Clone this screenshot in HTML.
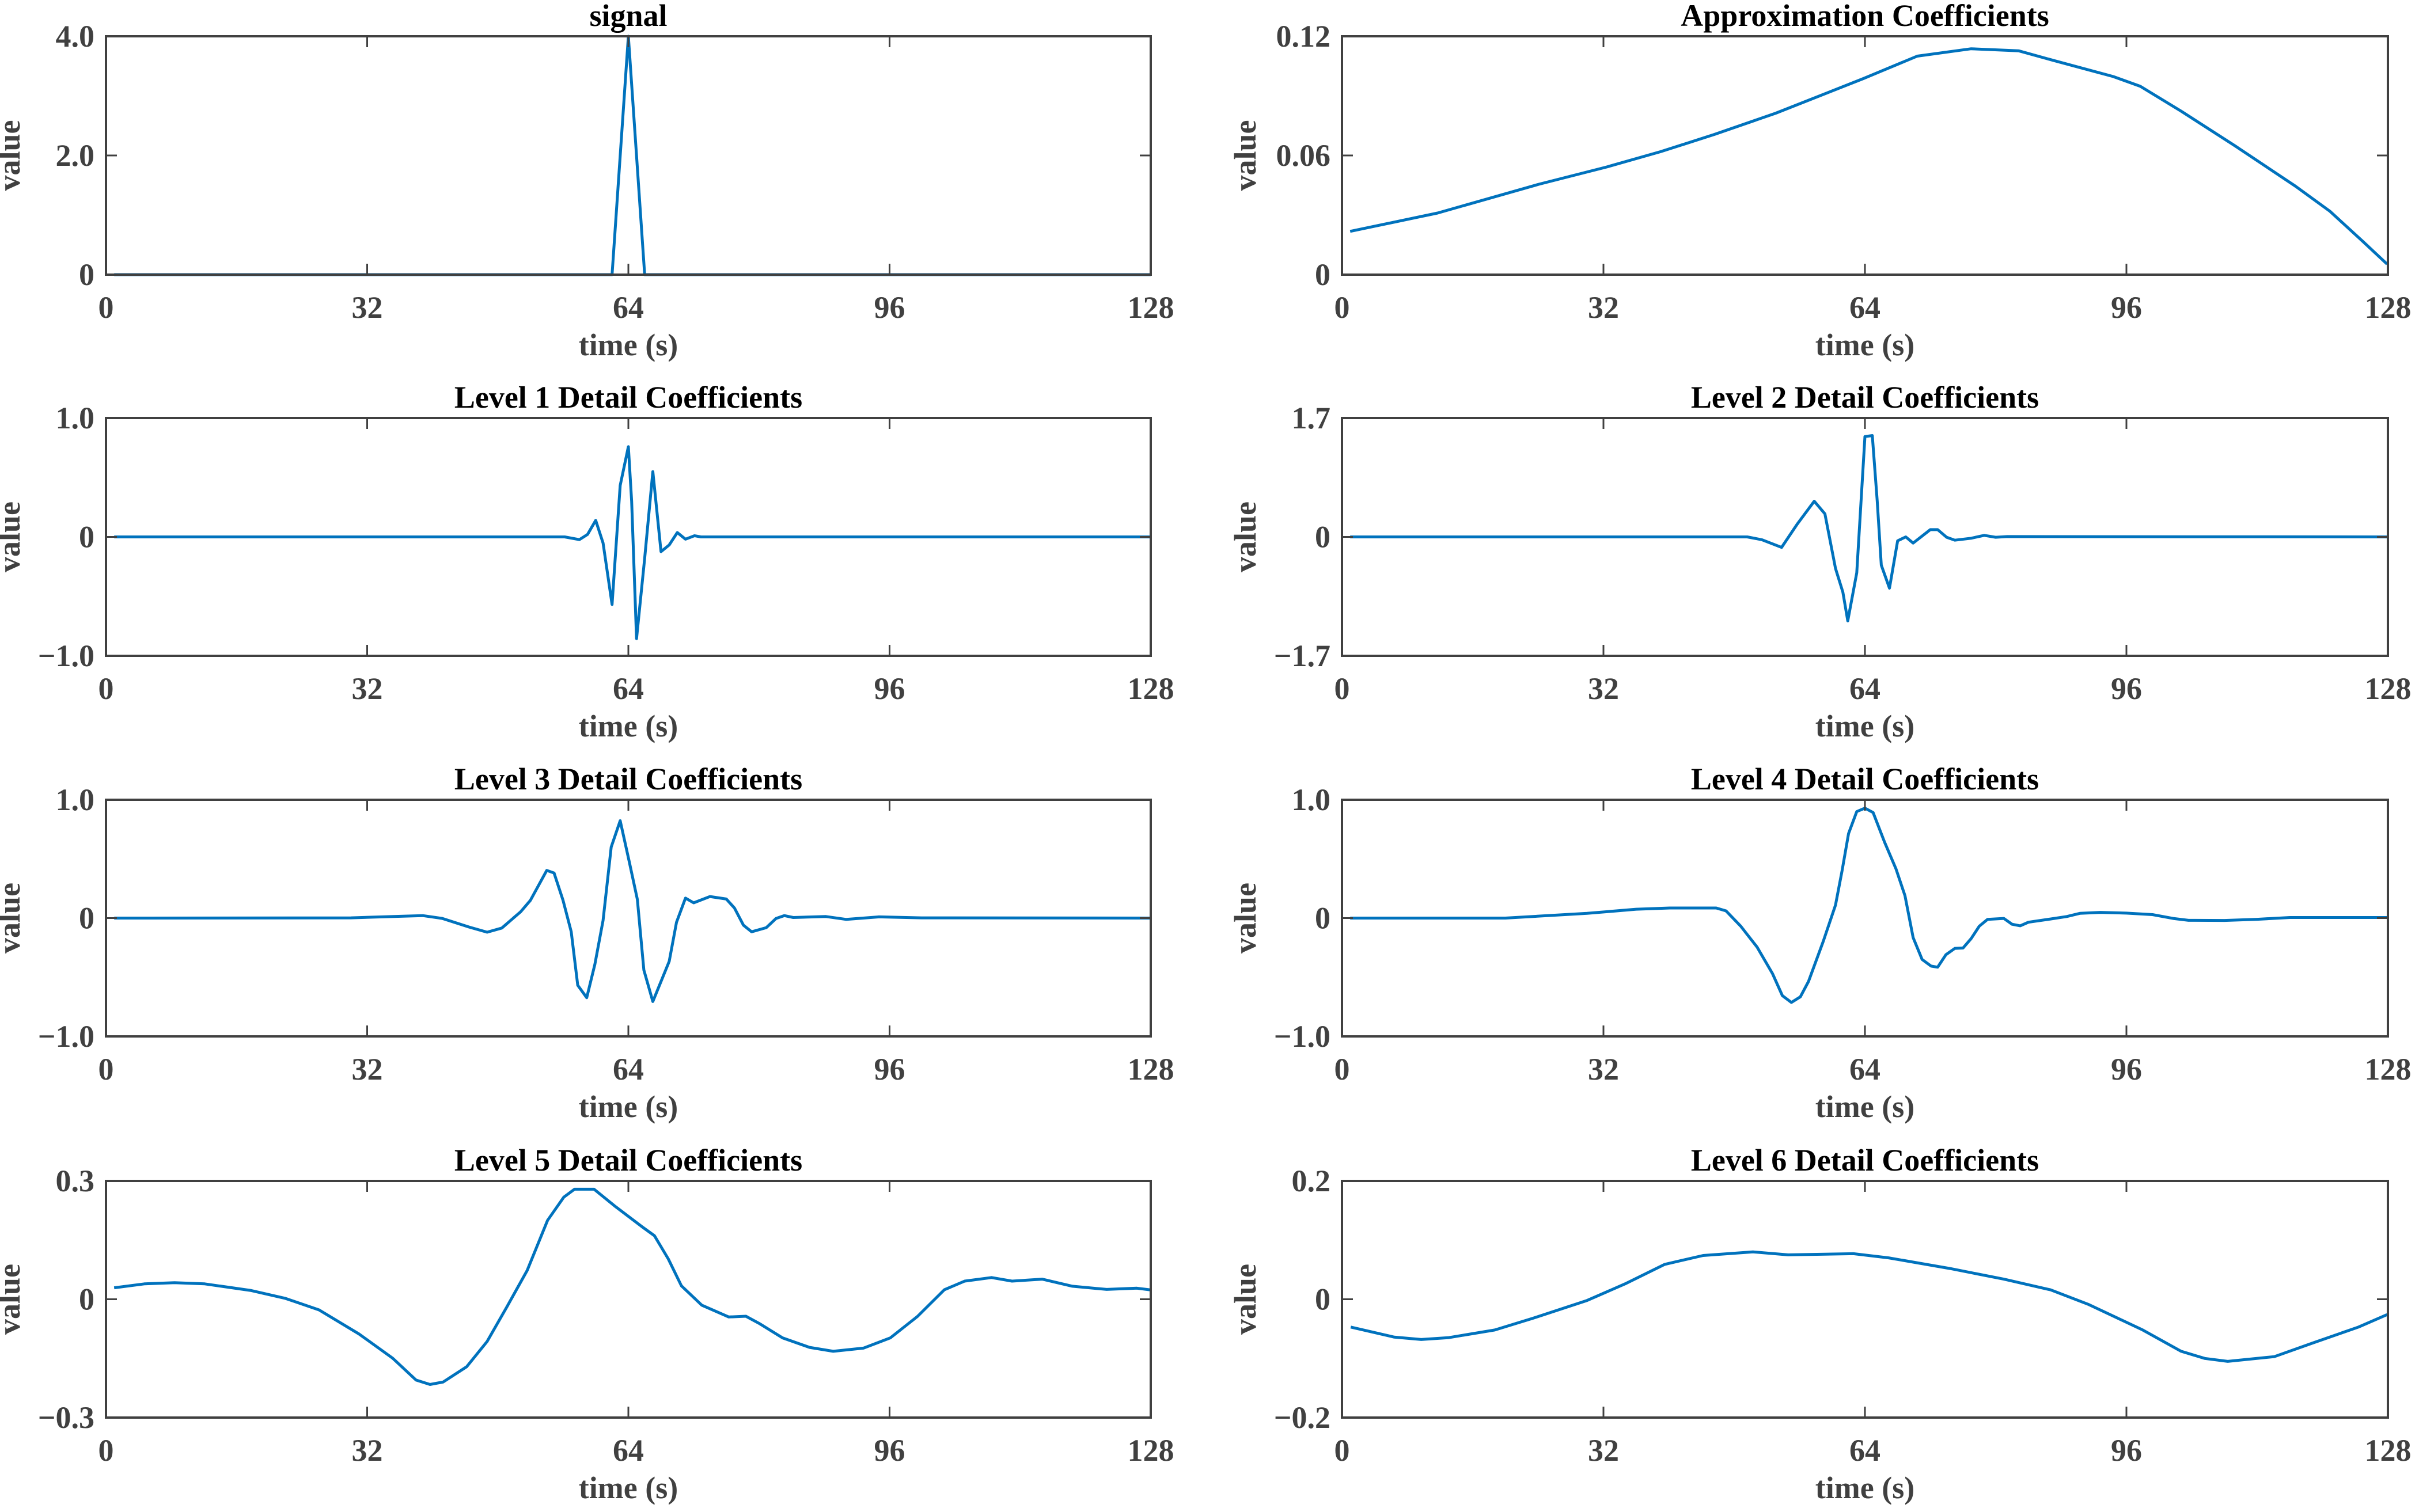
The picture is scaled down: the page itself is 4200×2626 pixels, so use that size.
<!DOCTYPE html>
<html><head><meta charset="utf-8">
<style>
html,body{margin:0;padding:0;background:#fff;}
svg{display:block;}
text{font-family:"Liberation Serif",serif;font-weight:bold;}
</style></head>
<body>
<svg id="fig" width="4200" height="2626" viewBox="0 0 4200 2626" xmlns="http://www.w3.org/2000/svg"></svg>
<script>
// ---- data ----
const xTickLabels = ["0","32","64","96","128"];
const xTickValues = [0,32,64,96,128];

const signalT = [1,62,64,66,128];
const signalV = [0,0,4,0,0];

const approxT = [1,11.7,24.1,32.4,39,45.6,53.1,63.8,70.4,77,82.8,87,94.4,97.7,102.7,109.3,116.7,120.9,125,127.9];
const approxV = [0.0218,0.031,0.0455,0.0542,0.0619,0.0706,0.0813,0.0987,0.110,0.1137,0.1127,0.1079,0.0997,0.0948,0.0823,0.0648,0.0445,0.0319,0.0165,0.0053];

const d1T = [1,56.2,58,59,60,60.9,62,63,64,64.4,65,66,67,68,69,70,71,72.1,72.9,128];
const d1V = [0,0,-0.023,0.021,0.139,-0.052,-0.568,0.433,0.759,0.30,-0.855,-0.18,0.549,-0.124,-0.068,0.037,-0.019,0.01,0,0];

const d2T = [1,49.6,51.4,53.8,55.7,57.8,59.1,60.4,61.3,61.9,63,64,64.9,65.5,66,67,68,69,69.9,72,72.9,74,75,77,78.6,80,81.4,128];
const d2V = [0,0,-0.04,-0.15,0.18,0.51,0.33,-0.45,-0.79,-1.2,-0.513,1.435,1.449,0.516,-0.403,-0.733,-0.055,0,-0.088,0.104,0.104,-0.005,-0.047,-0.019,0.022,-0.005,0.005,0];

const d3T = [1,30,36.4,38.8,41.2,44.5,46.7,48.5,50.8,52,54,54.9,56,57,57.8,58.9,59.9,60.9,61.9,63,64.1,65.1,65.9,67,69,69.9,71,72,74,76,77,78.1,79.1,80.9,82.1,83.1,84.2,88.2,90.7,94.7,99.9,128];
const d3V = [0,0.002,0.016,0.021,-0.003,-0.076,-0.119,-0.084,0.053,0.15,0.403,0.381,0.15,-0.116,-0.568,-0.673,-0.39,-0.019,0.60,0.823,0.48,0.158,-0.439,-0.705,-0.366,-0.035,0.169,0.129,0.182,0.161,0.085,-0.06,-0.116,-0.081,-0.003,0.021,0.005,0.013,-0.011,0.01,0.002,0];

const d4T = [1,20,30,36,40.1,45.8,47,48.8,50.8,52.7,53.9,55,56.1,57.1,58.9,60.4,61.2,62,63,64,65,66.4,67.8,68.9,69.9,71,72.1,72.9,73.9,75,76,77,78,79,81,82,83,84,86.7,88.7,90.3,92.8,96,99.2,101.7,103.6,108,112,116,128];
const d4V = [0,0,0.04,0.075,0.085,0.085,0.061,-0.068,-0.245,-0.471,-0.656,-0.713,-0.665,-0.535,-0.197,0.11,0.40,0.715,0.90,0.929,0.892,0.642,0.416,0.19,-0.165,-0.35,-0.406,-0.415,-0.31,-0.256,-0.253,-0.173,-0.068,-0.011,-0.003,-0.052,-0.065,-0.035,-0.008,0.013,0.04,0.048,0.042,0.029,-0.003,-0.019,-0.02,-0.01,0.005,0.005];

const d5T = [1,4.7,8.4,12.1,17.8,22,26.1,31,35.1,38,39.7,41.3,44.2,46.7,49.1,51.6,54.1,56.1,57.4,59.8,62.3,65.6,67.2,68.9,70.5,73,76.3,78.4,80,82.9,86.2,89.1,92.8,96.1,99.4,102.7,105.2,108.5,111,114.7,118.4,122.6,126.3,127.9];
const d5V = [0.029,0.039,0.042,0.039,0.022,0.002,-0.027,-0.088,-0.149,-0.205,-0.216,-0.21,-0.171,-0.107,-0.02,0.073,0.2,0.259,0.279,0.279,0.237,0.185,0.161,0.102,0.034,-0.015,-0.045,-0.043,-0.061,-0.098,-0.122,-0.132,-0.124,-0.098,-0.044,0.024,0.046,0.055,0.046,0.051,0.033,0.025,0.028,0.024];

const d6T = [1.07,6.4,9.7,13,18.7,23.4,30,34.8,39.5,44.2,50.3,54.6,62.6,66.9,74.4,81,86.7,91.4,98,102.7,105.6,108.4,114.1,118.8,124.4,127.9];
const d6V = [-0.047,-0.064,-0.068,-0.065,-0.052,-0.032,-0.002,0.027,0.059,0.074,0.08,0.075,0.077,0.07,0.052,0.034,0.016,-0.009,-0.052,-0.088,-0.1,-0.105,-0.097,-0.074,-0.047,-0.026];

const titles = ["signal","Approximation Coefficients","Level 1 Detail Coefficients","Level 2 Detail Coefficients","Level 3 Detail Coefficients","Level 4 Detail Coefficients","Level 5 Detail Coefficients","Level 6 Detail Coefficients"];
const yTickLabelSets = [["0","2.0","4.0"],["0","0.06","0.12"],["\u22121.0","0","1.0"],["\u22121.7","0","1.7"],["\u22121.0","0","1.0"],["\u22121.0","0","1.0"],["\u22120.3","0","0.3"],["\u22120.2","0","0.2"]];
const yTickValueSets = [[0,2,4],[0,0.06,0.12],[-1,0,1],[-1.7,0,1.7],[-1,0,1],[-1,0,1],[-0.3,0,0.3],[-0.2,0,0.2]];
const seriesT = [signalT,approxT,d1T,d2T,d3T,d4T,d5T,d6T];
const seriesV = [signalV,approxV,d1V,d2V,d3V,d4V,d5V,d6V];
const panelNames = ["signal","approximation","level1","level2","level3","level4","level5","level6"];

// ---- layout ----
const NS = "http://www.w3.org/2000/svg";
const svg = document.getElementById("fig");
const colX = [[184,1998],[2330,4146]];
const rowY = [[63,477],[726,1139],[1389,1800],[2051,2462]];
const AX = "#404040";

function mk(tag, attrs, parent){
  const e = document.createElementNS(NS, tag);
  for (const k in attrs) e.setAttribute(k, attrs[k]);
  (parent||svg).appendChild(e);
  return e;
}

for (let p = 0; p < 8; p++) {
  const c = p % 2, r = Math.floor(p / 2);
  const x0 = colX[c][0], x1 = colX[c][1], y0 = rowY[r][0], y1 = rowY[r][1];
  const yv = yTickValueSets[p];
  const ymin = yv[0], ymax = yv[yv.length-1];
  const sx = t => x0 + (t - 0) / 128 * (x1 - x0);
  const sy = v => y1 - (v - ymin) / (ymax - ymin) * (y1 - y0);

  const g = mk("g", {});
  
  

  // series line
  const T = seriesT[p], V = seriesV[p];
  let d = "";
  for (let i = 0; i < T.length; i++) d += (i ? "L" : "M") + sx(T[i]).toFixed(1) + "," + sy(V[i]).toFixed(1);
  const line = mk("path", {d: d, fill: "none", stroke: "#0072BD", "stroke-width": 5, "stroke-linejoin": "round"}, g);
  
  

  // axes box
  const box = mk("rect", {x: x0, y: y0, width: x1 - x0, height: y1 - y0, fill: "none", stroke: AX, "stroke-width": 4}, g);
  
  

  // x ticks
  for (let i = 0; i < xTickValues.length; i++) {
    const x = sx(xTickValues[i]);
    mk("line", {x1: x, y1: y1, x2: x, y2: y1 - 19, stroke: AX, "stroke-width": 3}, g);
    mk("line", {x1: x, y1: y0, x2: x, y2: y0 + 19, stroke: AX, "stroke-width": 3}, g);
    const tl = mk("text", {x: x, y: y1 + 75, "text-anchor": "middle", "font-size": 54, fill: AX}, g);
    tl.textContent = xTickLabels[i];
    
    
  }
  // y ticks
  for (let i = 0; i < yv.length; i++) {
    const y = sy(yv[i]);
    mk("line", {x1: x0, y1: y, x2: x0 + 19, y2: y, stroke: AX, "stroke-width": 3}, g);
    mk("line", {x1: x1, y1: y, x2: x1 - 19, y2: y, stroke: AX, "stroke-width": 3}, g);
    const tl = mk("text", {x: x0 - 20, y: y + 18, "text-anchor": "end", "font-size": 54, fill: AX}, g);
    tl.textContent = yTickLabelSets[p][i];
    
    
  }
  // title
  const tt = mk("text", {x: (x0 + x1) / 2, y: y0 - 18, "text-anchor": "middle", "font-size": 54, fill: "#000"}, g);
  tt.textContent = titles[p];
  
  
  // x label
  const xl = mk("text", {x: (x0 + x1) / 2, y: y1 + 140, "text-anchor": "middle", "font-size": 54, fill: AX}, g);
  xl.textContent = "time (s)";
  
  
  // y label
  const lx = x0 - 150, ly = (y0 + y1) / 2;
  const yl = mk("text", {x: lx, y: ly, "text-anchor": "middle", "font-size": 54, fill: AX, transform: "rotate(-90 " + lx + " " + ly + ")"}, g);
  yl.textContent = "value";
  
  
}
</script>
</body></html>
